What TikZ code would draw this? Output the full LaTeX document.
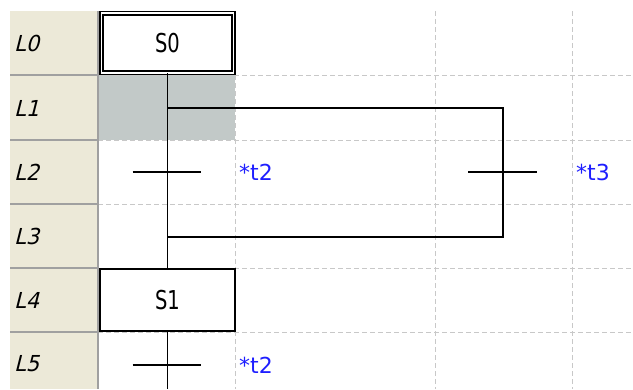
\documentclass[tikz,border=0pt]{standalone}
\usepackage{fontspec}
\setmainfont{DejaVu Sans}
\newfontfamily\stepfont[FakeStretch=0.75]{DejaVu Sans}
\newfontfamily\rowfont[FakeSlant=0.25,FakeStretch=0.95]{DejaVu Sans}
\definecolor{beige}{HTML}{ECE9D8}
\definecolor{selgray}{HTML}{C2C9C8}
\definecolor{gridgray}{HTML}{C8C8C8}
\definecolor{sepgray}{HTML}{A0A0A0}
\definecolor{condblue}{HTML}{1E1EFF}
\tikzset{
  gridline/.style={draw=gridgray, line width=1pt, dash pattern=on 5pt off 3pt},
  sepline/.style={draw=sepgray, line width=1.2pt},
  wire/.style={draw=black, line width=1.7pt},
  initstep/.style={draw=black, double=white, line width=1.4pt, double distance=1.8pt,
    minimum width=132pt, minimum height=59.5pt, inner sep=0pt, fill=white,
    font=\stepfont\fontsize{26}{26}\selectfont},
  stepbox/.style={draw=black, line width=1.6pt, fill=white,
    minimum width=135.4pt, minimum height=62.4pt, inner sep=0pt,
    font=\stepfont\fontsize{26}{26}\selectfont},
  trans/.style={inner sep=0pt, minimum size=0pt},
  cond/.style={anchor=west, text=condblue, inner sep=0pt, font=\fontsize{22}{22}\selectfont},
  rowlabel/.style={anchor=west, inner sep=0pt, font=\rowfont\fontsize{22}{22}\selectfont}
}
\begin{document}
\begin{tikzpicture}[x=1pt,y=-1pt]
\useasboundingbox (0,0) rectangle (633,389);
% left row header column
\fill[beige] (10,11) rectangle (98,389);
\foreach \yy in {75,140,204,268,332} \draw[sepline] (10,\yy) -- (98,\yy);
% selected cell
\fill[selgray] (98,75) rectangle (235,140);
% grid
\foreach \yy in {75,140,204,268,332} \draw[gridline] (98,\yy) -- (633,\yy);
\foreach \xx in {235,435,572} \draw[gridline] (\xx,11) -- (\xx,389);
\draw[sepline] (98,11) -- (98,389);
% row labels
\node[rowlabel] (r0) at (14,43) {L0};
\node[rowlabel] (r1) at (14,108) {L1};
\node[rowlabel] (r2) at (14,172) {L2};
\node[rowlabel] (r3) at (14,236) {L3};
\node[rowlabel] (r4) at (14,300) {L4};
\node[rowlabel] (r5) at (14,364) {L5};
% steps
\node[initstep] (S0) at (167.5,43) {S0};
\node[stepbox] (S1) at (167.5,300) {S1};
% transitions
\node[trans] (T1) at (167.5,172) {};
\node[trans] (T2) at (503,172) {};
\node[trans] (T3) at (167.5,365) {};
\coordinate (bot) at (167.5,389);
\coordinate (d1) at (167.5,108);
\coordinate (d2) at (503,108);
\coordinate (c1) at (167.5,237);
\coordinate (c2) at (503,237);
% connectors
\draw[wire] (S0.south) -- (d1) -- (T1.center) -- (c1) -- (S1.north);
\draw[wire] (d1) -- (d2) -- (T2.center) -- (c2) -- (c1);
\draw[wire] (S1.south) -- (T3.center) -- (bot);
% transition bars
\draw[wire] ([xshift=-35pt]T1.center) -- ([xshift=33pt]T1.center);
\draw[wire] ([xshift=-35pt]T2.center) -- ([xshift=34pt]T2.center);
\draw[wire] ([xshift=-35pt]T3.center) -- ([xshift=33pt]T3.center);
% conditions
\node[cond] (k1) at (239,172) {*t2};
\node[cond] (k2) at (576,172) {*t3};
\node[cond] (k3) at (239,365) {*t2};
\end{tikzpicture}
\end{document}
